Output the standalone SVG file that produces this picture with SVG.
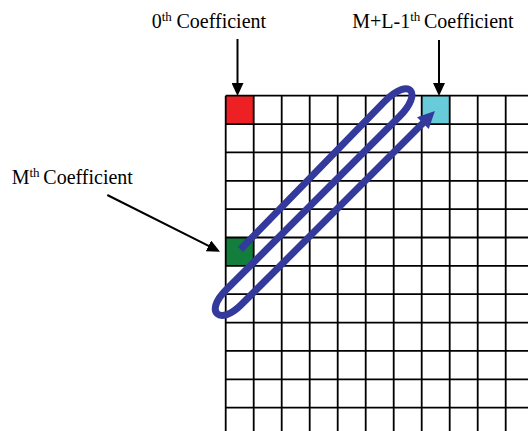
<svg xmlns="http://www.w3.org/2000/svg" width="528" height="431" viewBox="0 0 528 431">
<defs>
<style>
.lbl{font-family:"Liberation Serif","Times New Roman",serif;font-size:20px;fill:#000}
.sup{font-size:13px}
.grid{stroke:#000;stroke-width:1.8;fill:none}
.ptr{stroke:#000;stroke-width:2;fill:none;marker-end:url(#ah)}
.loop{stroke:#343a9b;stroke-width:7;fill:none;stroke-linejoin:round}
</style>
<marker id="ah" markerUnits="userSpaceOnUse" markerWidth="14" markerHeight="12" refX="3" refY="6" orient="auto">
<path d="M0,0 L13,6 L0,12 Z" fill="#000"/>
</marker>
</defs>
<rect width="528" height="431" fill="#fff"/>
<g id="cells">
<rect id="cell-0" x="225.7" y="95.7" width="28" height="28.36" fill="#ed2024"/>
<rect id="cell-ML1" x="421.7" y="95.7" width="28" height="28.36" fill="#68cbd9"/>
<rect id="cell-M" x="225.7" y="237.5" width="28" height="28.36" fill="#137e3b"/>
</g>
<g id="grid">
<path class="grid" d="M225.7,95.7H528M225.7,124.06H528M225.7,152.42H528M225.7,180.78H528M225.7,209.14H528M225.7,237.5H528M225.7,265.86H528M225.7,294.22H528M225.7,322.58H528M225.7,350.94H528M225.7,379.3H528M225.7,407.66H528"/>
<path class="grid" d="M225.7,95.7V431M253.7,95.7V431M281.7,95.7V431M309.7,95.7V431M337.7,95.7V431M365.7,95.7V431M393.7,95.7V431M421.7,95.7V431M449.7,95.7V431M477.7,95.7V431M505.7,95.7V431"/>
</g>
<g id="label-0">
<text class="lbl" x="151.7" y="28">0<tspan class="sup" dy="-7">th</tspan><tspan x="176.5" dy="7">Coefficient</tspan></text>
</g>
<g id="label-ML1">
<text class="lbl" x="352.3" y="28">M+L-1<tspan class="sup" dy="-7">th</tspan><tspan x="424" dy="7">Coefficient</tspan></text>
</g>
<g id="label-M">
<text class="lbl" x="11.7" y="184">M<tspan class="sup" dy="-7">th</tspan><tspan x="43.3" dy="7">Coefficient</tspan></text>
</g>
<g id="connectors">
<line class="ptr" x1="237.5" y1="39" x2="237.5" y2="86"/>
<line class="ptr" x1="439" y1="40" x2="439" y2="86"/>
<line class="ptr" x1="107.3" y1="195" x2="211.1" y2="247.2"/>
<g transform="translate(250.5,250.5) rotate(-45)">
<path class="loop" d="M-6.4,-7.8 L200,-10.6 C236,-10.6 234,10.6 200,10.6 L-45,10.6 C-77,10.6 -75,31.8 -45,31.8 L215,31.8"/>
<polygon points="229,31.8 212,23.5 212,40.1" fill="#343a9b"/>
</g>
</g>
</svg>
